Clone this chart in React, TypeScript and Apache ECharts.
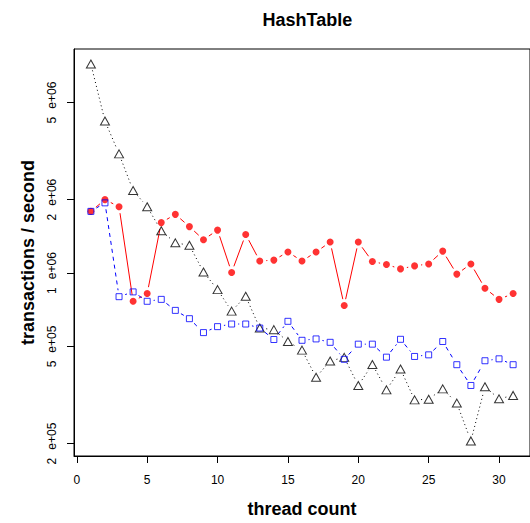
import { useEffect, useRef } from "react";
import * as echarts from "echarts";

// Thread counts on the x axis
const threads = [
  1, 2, 3, 4, 5, 6, 7, 8, 9, 10, 11, 12, 13, 14, 15, 16,
  17, 18, 19, 20, 21, 22, 23, 24, 25, 26, 27, 28, 29, 30, 31,
];

// Throughput (transactions / second), red filled circles, solid line
const redRate = [
  1.79e6, 2.0e6, 1.87e6, 7.66e5, 8.24e5, 1.61e6, 1.74e6, 1.55e6, 1.37e6, 1.5e6,
  1.006e6, 1.44e6, 1.12e6, 1.13e6, 1.22e6, 1.12e6, 1.22e6, 1.34e6, 7.36e5, 1.34e6,
  1.115e6, 1.084e6, 1.04e6, 1.07e6, 1.09e6, 1.23e6, 9.9e5, 1.09e6, 8.66e5, 7.8e5,
  8.24e5,
];

// Throughput, blue open squares, dashed line
const blueRate = [
  1.79e6, 1.94e6, 8.0e5, 8.37e5, 7.66e5, 7.8e5, 7.03e5, 6.5e5, 5.7e5, 6.03e5,
  6.18e5, 6.18e5, 5.95e5, 5.34e5, 6.34e5, 5.3e5, 5.37e5, 5.2e5, 4.43e5, 5.11e5,
  5.11e5, 4.52e5, 5.35e5, 4.55e5, 4.62e5, 5.24e5, 4.21e5, 3.46e5, 4.37e5, 4.45e5,
  4.21e5,
];

// Throughput, black open triangles, dotted line
const blackRate = [
  7.19e6, 4.2e6, 3.08e6, 2.18e6, 1.87e6, 1.49e6, 1.33e6, 1.3e6, 1.01e6, 8.55e5,
  6.98e5, 8.03e5, 5.95e5, 5.86e5, 5.24e5, 4.83e5, 3.74e5, 4.36e5, 4.51e5, 3.46e5,
  4.22e5, 3.32e5, 4.04e5, 3.02e5, 3.04e5, 3.35e5, 2.93e5, 2.05e5, 3.42e5, 3.05e5,
  3.15e5,
];

const xTicks = [0, 5, 10, 15, 20, 25, 30];
const yTicks = [2e5, 5e5, 1e6, 2e6, 5e6];

const FONT = "'Liberation Sans', Arial, Helvetica, sans-serif";
const GAP = 6.5; // lines stop short of each point marker

// R-style axis range: data range widened by 4% on each side
function paddedRange(values: number[]): [number, number] {
  const lo = Math.min(...values);
  const hi = Math.max(...values);
  const pad = (hi - lo) * 0.04;
  return [lo - pad, hi + pad];
}

function segments(values: number[]) {
  const out: number[][] = [];
  for (let i = 1; i < values.length; i++) {
    out.push([threads[i - 1], Math.log10(values[i - 1]), threads[i], Math.log10(values[i])]);
  }
  return out;
}

function segmentRenderer(color: string, dash: number[] | null) {
  return (_params: any, api: any) => {
    const a = api.coord([api.value(0), api.value(1)]);
    const b = api.coord([api.value(2), api.value(3)]);
    const dx = b[0] - a[0];
    const dy = b[1] - a[1];
    const len = Math.hypot(dx, dy);
    if (len <= 2 * GAP) return { type: "group", children: [] };
    const ux = dx / len;
    const uy = dy / len;
    return {
      type: "line",
      shape: {
        x1: a[0] + ux * GAP,
        y1: a[1] + uy * GAP,
        x2: b[0] - ux * GAP,
        y2: b[1] - uy * GAP,
      },
      style: { stroke: color, lineWidth: 1, lineDash: dash || undefined, fill: null },
    };
  };
}

function lineSeries(values: number[], color: string, dash: number[] | null) {
  return {
    type: "custom",
    silent: true,
    z: 2,
    renderItem: segmentRenderer(color, dash),
    encode: { x: [0, 2], y: [1, 3] },
    data: segments(values),
  };
}

function pointSeries(values: number[], symbol: string, size: number | number[], style: any) {
  return {
    type: "scatter",
    silent: true,
    z: 3,
    symbol,
    symbolSize: size,
    itemStyle: style,
    data: threads.map((t, i) => [t, Math.log10(values[i])]),
  };
}

function tickLabel(logValue: number) {
  const v = Math.pow(10, logValue);
  const exp = Math.floor(Math.log10(v) + 1e-9);
  const mant = Math.round(v / Math.pow(10, exp));
  return `{m|${mant}}{e|e+${String(exp).padStart(2, "0")}}`;
}

export default function App() {
  const ref = useRef<HTMLDivElement>(null);

  useEffect(() => {
    if (!ref.current) return;
    const chart = echarts.init(ref.current, null, { renderer: "svg" });

    const xRange = paddedRange(threads);
    const yRange = paddedRange(
      [...redRate, ...blueRate, ...blackRate].map((v) => Math.log10(v))
    );

    const gridLeft = 74;
    const gridTop = 49;
    const gridWidth = 456.7;
    const gridHeight = 409.3;

    chart.setOption({
      animation: false,
      backgroundColor: "#ffffff",
      title: {
        text: "HashTable",
        left: gridLeft + gridWidth / 2,
        top: 6,
        textAlign: "center",
        textStyle: { fontFamily: FONT, fontSize: 18, fontWeight: "bold", color: "#000" },
      },
      grid: {
        left: gridLeft,
        top: gridTop,
        width: gridWidth,
        height: gridHeight,
        show: true,
        borderColor: "#000",
        borderWidth: 1,
        backgroundColor: "transparent",
      },
      xAxis: {
        type: "value",
        min: xRange[0],
        max: xRange[1],
        name: "thread count",
        nameLocation: "middle",
        nameGap: 44,
        nameTextStyle: { fontFamily: FONT, fontSize: 18, fontWeight: "bold", color: "#000" },
        axisLine: { show: true, onZero: false, lineStyle: { color: "#000", width: 1 } },
        axisTick: { show: true, length: 7, customValues: xTicks, lineStyle: { color: "#000" } },
        axisLabel: {
          customValues: xTicks,
          margin: 18,
          fontFamily: FONT,
          fontSize: 12,
          color: "#000",
        },
        splitLine: { show: false },
      },
      yAxis: {
        type: "value",
        min: yRange[0],
        max: yRange[1],
        name: "transactions / second",
        nameLocation: "middle",
        nameRotate: 90,
        nameGap: 37,
        nameTextStyle: { fontFamily: FONT, fontSize: 18, fontWeight: "bold", color: "#000" },
        axisLine: { show: true, onZero: false, lineStyle: { color: "#000", width: 1 } },
        axisTick: {
          show: true,
          length: 7,
          customValues: yTicks.map((v) => Math.log10(v)),
          lineStyle: { color: "#000" },
        },
        axisLabel: {
          customValues: yTicks.map((v) => Math.log10(v)),
          rotate: 90,
          margin: 16,
          formatter: (val: number) => tickLabel(val),
          rich: {
            m: { fontFamily: FONT, fontSize: 12, color: "#000", padding: [0, 8, 0, 0] },
            e: { fontFamily: FONT, fontSize: 12, color: "#000" },
          },
        },
        splitLine: { show: false },
      },
      series: [
        lineSeries(blackRate, "#000000", [1, 3]),
        lineSeries(redRate, "#ff0000", null),
        lineSeries(blueRate, "#0000ff", [4, 4]),
        pointSeries(blackRate, "triangle", [9, 8], {
          color: "rgba(0,0,0,0)",
          borderColor: "#000",
          borderWidth: 1,
        }),
        pointSeries(redRate, "circle", 7, { color: "#ff0000" }),
        pointSeries(blueRate, "rect", 6, {
          color: "rgba(0,0,0,0)",
          borderColor: "#0000ff",
          borderWidth: 1,
        }),
      ],
    });

    return () => chart.dispose();
  }, []);

  return (
    <div
      ref={ref}
      style={{ position: "absolute", left: 0, top: 0, width: 530, height: 523 }}
    />
  );
}
